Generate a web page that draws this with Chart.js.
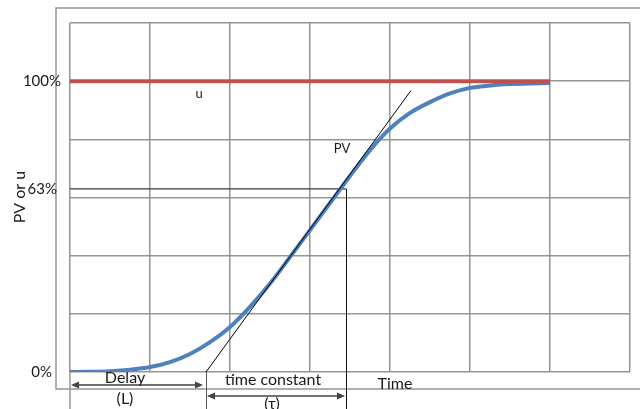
<!DOCTYPE html>
<html>
<head>
<meta charset="utf-8">
<script src="https://cdn.jsdelivr.net/npm/chart.js@4.4.1/dist/chart.umd.min.js"></script>
<style>
  html, body { margin: 0; padding: 0; background: #fff; }
  #wrap { width: 640px; height: 409px; position: relative; }
</style>
</head>
<body>
<div id="wrap"><canvas id="c" width="640" height="409"></canvas></div>
<script>
// Time in grid divisions, process value in percent of the step size
const timeSteps = [0, 0.25, 0.5, 0.75, 1, 1.25, 1.5, 1.75, 2, 2.25, 2.5, 2.75, 3, 3.25, 3.5, 3.75, 4, 4.25, 4.5, 4.75, 5, 5.25, 5.5, 5.75, 6];
const pvValues  = [0, 0.1, 0.3, 0.8, 1.7, 3.4, 6.2, 10.3, 15.5, 22.4, 30.4, 39.5, 48.8, 58.1, 67.4, 76.3, 83.7, 89.1, 92.8, 95.8, 97.7, 98.5, 99.0, 99.2, 99.4];

// Controller output step
const uTimes  = [0, 6];
const uValues = [100, 100];

// Tangent through the steepest part of the response
const tangentTimes  = [1.7, 4.26];
const tangentValues = [0, 96.7];

// Delay and time constant markers
const delayStart = 0;
const tauStart = 1.7;
const tauEnd = 3.45;
const refLevel = 63;

// Axis labels
const yTickValues = [0, 63, 100];
const yTickLabels = ['0%', '63%', '100%'];
const yTitle = 'PV or u';
const xTitle = 'Time';
const delayText = ['Delay', '(L)'];
const tauText = ['time constant', '(\u03C4)'];
const seriesNames = ['u', 'PV'];

const FONT = "Lato, 'Liberation Sans', 'DejaVu Sans', sans-serif";
const GRID = '#959595';

const pts = (xs, ys) => xs.map((t, i) => ({ x: t, y: ys[i] }));

function arrow(ctx, x1, x2, yy) {
  const L = 8, W = 3.5;
  ctx.beginPath();
  ctx.moveTo(x1 + 2, yy); ctx.lineTo(x2 - 2, yy); ctx.stroke();
  ctx.beginPath();
  ctx.moveTo(x1, yy); ctx.lineTo(x1 + L, yy - W); ctx.lineTo(x1 + L, yy + W); ctx.closePath(); ctx.fill();
  ctx.beginPath();
  ctx.moveTo(x2, yy); ctx.lineTo(x2 - L, yy - W); ctx.lineTo(x2 - L, yy + W); ctx.closePath(); ctx.fill();
}

const notes = {
  id: 'notes',
  beforeDatasetsDraw(chart) {
    const { ctx, scales: { x, y } } = chart;
    ctx.save();
    ctx.strokeStyle = '#3a3a3a';
    ctx.lineWidth = 1.3;
    ctx.beginPath();
    ctx.moveTo(x.getPixelForValue(0), y.getPixelForValue(refLevel));
    ctx.lineTo(x.getPixelForValue(tauEnd), y.getPixelForValue(refLevel));
    ctx.stroke();
    ctx.restore();
  },
  afterDraw(chart) {
    const { ctx, chartArea: a, scales: { x, y } } = chart;
    const H = chart.height, W = chart.width;
    ctx.save();

    // outer frame
    ctx.strokeStyle = GRID;
    ctx.lineWidth = 1.5;
    ctx.beginPath();
    ctx.moveTo(W + 2, a.top - 15);
    ctx.lineTo(a.left - 14, a.top - 15);
    ctx.lineTo(a.left - 14, a.bottom + 17);
    ctx.lineTo(W + 2, a.bottom + 17);
    ctx.stroke();

    // marker lines below the plot
    const x0 = x.getPixelForValue(delayStart);
    const xL = x.getPixelForValue(tauStart);
    const xT = x.getPixelForValue(tauEnd);
    ctx.beginPath();
    ctx.moveTo(x0, a.bottom); ctx.lineTo(x0, H); ctx.stroke();

    ctx.strokeStyle = '#555';
    ctx.lineWidth = 1;
    ctx.beginPath();
    ctx.moveTo(Math.round(xL) + 0.5, a.bottom); ctx.lineTo(Math.round(xL) + 0.5, H); ctx.stroke();

    ctx.strokeStyle = '#111';
    ctx.beginPath();
    ctx.moveTo(Math.round(xT) + 0.5, y.getPixelForValue(refLevel)); ctx.lineTo(Math.round(xT) + 0.5, H); ctx.stroke();

    // arrows
    ctx.strokeStyle = '#444';
    ctx.fillStyle = '#444';
    ctx.lineWidth = 1.3;
    arrow(ctx, x0 + 1, xL - 3, a.bottom + 13);
    arrow(ctx, xL + 1, xT - 1, a.bottom + 24);

    // texts
    ctx.fillStyle = '#1a1a1a';
    ctx.textBaseline = 'middle';
    ctx.textAlign = 'center';
    ctx.font = '16px ' + FONT;
    ctx.fillText(delayText[0], x0 + 55, a.bottom + 6);
    ctx.fillText(delayText[1], x0 + 55, a.bottom + 27);
    ctx.fillText(tauText[0], xL + 67, a.bottom + 8);
    ctx.fillText(tauText[1], xL + 66, a.bottom + 32);
    ctx.fillText(xTitle, xT + 49, a.bottom + 12);

    ctx.font = '13px ' + FONT;
    ctx.fillText(seriesNames[0], x.getPixelForValue(1.6125), y.getPixelForValue(95.6));
    ctx.fillText(seriesNames[1], x.getPixelForValue(3.4), y.getPixelForValue(76.8));

    // y tick labels
    ctx.font = '15px ' + FONT;
    ctx.textAlign = 'right';
    const rightEdge = [a.left - 18, a.left - 13, a.left - 9];
    yTickValues.forEach((v, i) => {
      ctx.fillText(yTickLabels[i], rightEdge[i], y.getPixelForValue(v));
    });

    // y title
    ctx.font = '16px ' + FONT;
    ctx.textAlign = 'center';
    ctx.translate(20, 197);
    ctx.rotate(-Math.PI / 2);
    ctx.fillText(yTitle, 0, 0);

    ctx.restore();
  }
};

new Chart(document.getElementById('c'), {
  type: 'line',
  data: {
    datasets: [
      { label: 'tangent', data: pts(tangentTimes, tangentValues), borderColor: '#000', borderWidth: 1, pointRadius: 0, order: 0 },
      { label: seriesNames[0], data: pts(uTimes, uValues), borderColor: '#c0504d', borderWidth: 4, pointRadius: 0, order: 1 },
      { label: seriesNames[1], data: pts(timeSteps, pvValues), borderColor: '#4f81bd', borderWidth: 4, pointRadius: 0, cubicInterpolationMode: 'monotone', order: 2 }
    ]
  },
  options: {
    responsive: false,
    animation: false,
    events: [],
    layout: { padding: { left: 70, right: 10, top: 23, bottom: 37 } },
    plugins: { legend: { display: false }, tooltip: { enabled: false }, title: { display: false } },
    scales: {
      x: {
        type: 'linear', min: 0, max: 7,
        ticks: { display: false, stepSize: 1 },
        grid: { color: GRID, lineWidth: 1.5, drawTicks: false },
        border: { display: false }
      },
      y: {
        type: 'linear', min: 0, max: 120,
        ticks: { display: false, stepSize: 20 },
        grid: { color: GRID, lineWidth: 1.5, drawTicks: false },
        border: { display: false }
      }
    }
  },
  plugins: [notes]
});
</script>
</body>
</html>
